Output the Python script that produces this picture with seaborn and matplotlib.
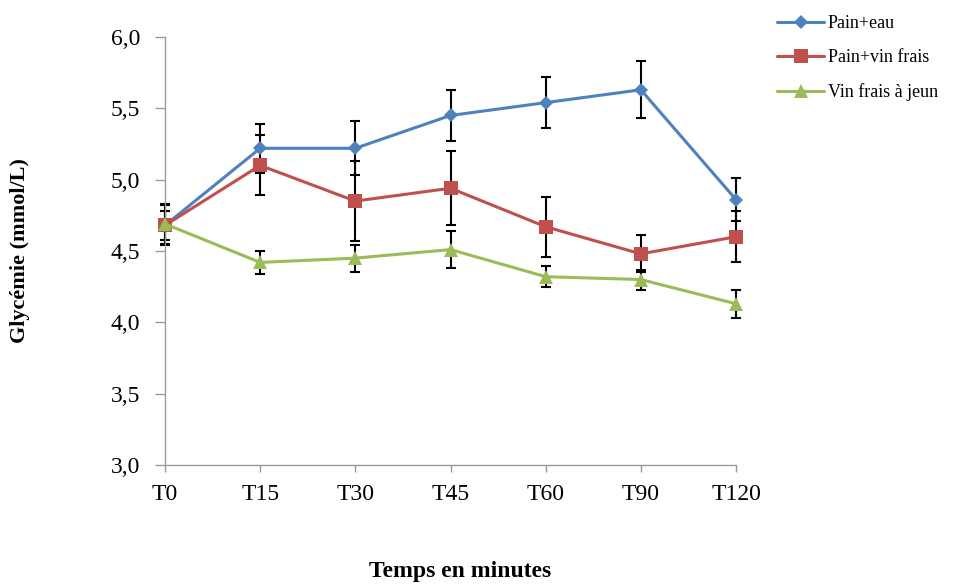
import numpy as np
import pandas as pd
import seaborn as sns
import matplotlib.pyplot as plt

# --- data ---
times = ['T0', 'T15', 'T30', 'T45', 'T60', 'T90', 'T120']
series = ['Pain+eau', 'Pain+vin frais', 'Vin frais à jeun']

pain_eau = [4.68, 5.22, 5.22, 5.45, 5.54, 5.63, 4.86]
pain_eau_err = [0.14, 0.17, 0.19, 0.18, 0.18, 0.20, 0.15]

pain_vin = [4.68, 5.10, 4.85, 4.94, 4.67, 4.48, 4.60]
pain_vin_err = [0.10, 0.21, 0.28, 0.26, 0.21, 0.13, 0.18]

vin_jeun = [4.69, 4.42, 4.45, 4.51, 4.32, 4.30, 4.13]
vin_jeun_err = [0.14, 0.08, 0.095, 0.13, 0.075, 0.07, 0.10]

colors = {'Pain+eau': '#4F81BD', 'Pain+vin frais': '#C0504D',
          'Vin frais à jeun': '#9BBB59'}
markers = {'Pain+eau': 'D', 'Pain+vin frais': 's', 'Vin frais à jeun': '^'}
msizes = {'Pain+eau': 7.5, 'Pain+vin frais': 10, 'Vin frais à jeun': 10}

vals = {'Pain+eau': (pain_eau, pain_eau_err),
        'Pain+vin frais': (pain_vin, pain_vin_err),
        'Vin frais à jeun': (vin_jeun, vin_jeun_err)}

sns.set_style('white')
plt.rcParams['font.family'] = ['Liberation Serif', 'DejaVu Serif']
plt.rcParams['text.color'] = 'black'

fig = plt.figure(figsize=(9.61, 5.86), dpi=100)
ax = fig.add_axes([165 / 961, 1 - 465 / 586, (736 - 165) / 961, (465 - 37) / 586])

x = np.arange(len(times))
for name in series:
    y, err = vals[name]
    df = pd.DataFrame({'x': x, 'y': y})
    ax.errorbar(x, y, yerr=err, fmt='none', ecolor='black', elinewidth=1.5,
                capsize=3.5, capthick=1.5, zorder=2, clip_on=False)
    sns.lineplot(data=df, x='x', y='y', ax=ax, color=colors[name],
                 marker=markers[name], markersize=msizes[name],
                 markeredgewidth=0, linewidth=2.2, label=name,
                 zorder=3, clip_on=False)

ax.set_xlim(0, 6)
ax.set_ylim(3.0, 6.0)
ax.set_xticks(x)
ax.set_xticklabels(times)
yt = np.arange(3.0, 6.01, 0.5)
ax.set_yticks(yt)
ax.set_yticklabels([f'{v:.1f}'.replace('.', ',') for v in yt])
ax.set_xlabel('')
ax.set_ylabel('')

for s in ['top', 'right']:
    ax.spines[s].set_visible(False)
for s in ['left', 'bottom']:
    ax.spines[s].set_color('#9a9a9a')
    ax.spines[s].set_linewidth(1.0)
ax.tick_params(axis='y', direction='out', length=7, width=1, color='#9a9a9a',
               labelsize=17, labelcolor='black', pad=11, left=True)
ax.tick_params(axis='x', direction='out', length=5, width=1, color='#9a9a9a',
               labelsize=17, labelcolor='black', pad=9, bottom=True)

fig.text(20 / 961, 1 - 251 / 586, 'Glycémie (mmol/L)', rotation=90,
         ha='center', va='center', fontsize=16, fontweight='bold')
fig.text(460 / 961, 1 - 572 / 586, 'Temps en minutes', ha='center',
         va='center', fontsize=17, fontweight='bold')

ax.legend(loc='upper left', bbox_to_anchor=(770 / 961, 1 - 8 / 586),
          bbox_transform=fig.transFigure, frameon=False, fontsize=13,
          handlelength=2.6, handletextpad=0.2, labelspacing=0.95,
          borderaxespad=0)

fig.savefig('out.png', dpi=100)
